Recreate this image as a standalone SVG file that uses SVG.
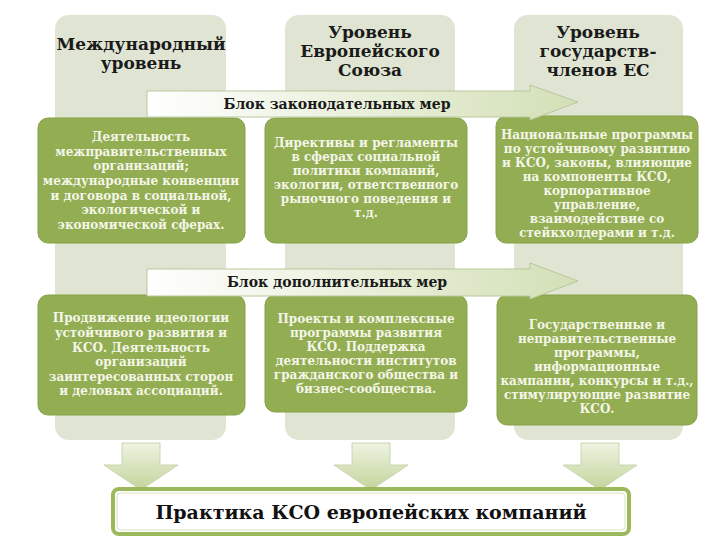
<svg xmlns="http://www.w3.org/2000/svg" width="720" height="540" viewBox="0 0 720 540">
<style>
.col{fill:#dfe5d2;}
.box{fill:#93ad52;stroke:#86a047;stroke-width:1;}
.hdr{font-family:"DejaVu Serif","Liberation Serif",serif;font-weight:bold;font-size:17px;fill:#1a1a1a;text-anchor:middle;}
.bt{font-family:"DejaVu Serif","Liberation Serif",serif;font-weight:bold;font-size:12px;fill:#f3f6e8;text-anchor:middle;}
.at{font-family:"DejaVu Serif","Liberation Serif",serif;font-weight:bold;font-size:14px;fill:#1a1a1a;text-anchor:middle;}
.ft{font-family:"DejaVu Serif","Liberation Serif",serif;font-weight:bold;font-size:19px;fill:#111;text-anchor:middle;}
.harrow{fill:url(#hg);stroke:#b9c79c;stroke-width:1;}
.darrow{fill:url(#vg);stroke:#c9d6ae;stroke-width:1;}
</style>
<defs>
<linearGradient id="hg" x1="0" y1="0" x2="1" y2="0">
<stop offset="0" stop-color="#ffffff"/>
<stop offset="1" stop-color="#d3e0b6"/>
</linearGradient>
<linearGradient id="vg" x1="0" y1="0" x2="0" y2="1">
<stop offset="0" stop-color="#eef3e2"/>
<stop offset="1" stop-color="#c3d49a"/>
</linearGradient>
</defs>
<rect width="720" height="540" fill="#ffffff"/>
<g id="col-intl">
<rect class="col" x="55" y="15" width="171" height="425" rx="14"/>
<text class="hdr" x="141" y="50">Международный</text>
<text class="hdr" x="141" y="69">уровень</text>
</g>
<g id="col-eu">
<rect class="col" x="285" y="15" width="170" height="425" rx="14"/>
<text class="hdr" x="370" y="38">Уровень</text>
<text class="hdr" x="370" y="57">Европейского</text>
<text class="hdr" x="370" y="76">Союза</text>
</g>
<g id="col-states">
<rect class="col" x="514" y="15" width="169" height="425" rx="14"/>
<text class="hdr" x="598" y="38">Уровень</text>
<text class="hdr" x="598" y="57">государств-</text>
<text class="hdr" x="598" y="76">членов ЕС</text>
</g>
<g id="box-1">
<rect class="box" x="38" y="118" width="207" height="125" rx="10"/>
<text class="bt" x="141" y="141">Деятельность</text>
<text class="bt" x="141" y="156">межправительственных</text>
<text class="bt" x="141" y="170">организаций;</text>
<text class="bt" x="141" y="185">международные конвенции</text>
<text class="bt" x="141" y="200">и договора в социальной,</text>
<text class="bt" x="141" y="214">экологической и</text>
<text class="bt" x="141" y="229">экономической сферах.</text>
</g>
<g id="box-2">
<rect class="box" x="265" y="118" width="202" height="125" rx="10"/>
<text class="bt" x="366" y="147">Директивы и регламенты</text>
<text class="bt" x="366" y="161">в сферах социальной</text>
<text class="bt" x="366" y="175">политики компаний,</text>
<text class="bt" x="366" y="189">экологии, ответственного</text>
<text class="bt" x="366" y="203">рыночного поведения и</text>
<text class="bt" x="366" y="217">т.д.</text>
</g>
<g id="box-3">
<rect class="box" x="496" y="116" width="202" height="127" rx="10"/>
<text class="bt" x="597" y="139">Национальные программы</text>
<text class="bt" x="597" y="153">по устойчивому развитию</text>
<text class="bt" x="597" y="167">и КСО, законы, влияющие</text>
<text class="bt" x="597" y="181">на компоненты КСО,</text>
<text class="bt" x="597" y="195">корпоративное</text>
<text class="bt" x="597" y="209">управление,</text>
<text class="bt" x="597" y="223">взаимодействие со</text>
<text class="bt" x="597" y="237">стейкхолдерами и т.д.</text>
</g>
<g id="box-4">
<rect class="box" x="38" y="295" width="207" height="120" rx="10"/>
<text class="bt" x="141" y="322">Продвижение идеологии</text>
<text class="bt" x="141" y="337">устойчивого развития и</text>
<text class="bt" x="141" y="352">КСО. Деятельность</text>
<text class="bt" x="141" y="366">организаций</text>
<text class="bt" x="141" y="381">заинтересованных сторон</text>
<text class="bt" x="141" y="395">и деловых ассоциаций.</text>
</g>
<g id="box-5">
<rect class="box" x="265" y="295" width="202" height="117" rx="10"/>
<text class="bt" x="366" y="323">Проекты и комплексные</text>
<text class="bt" x="366" y="337">программы развития</text>
<text class="bt" x="366" y="351">КСО. Поддержка</text>
<text class="bt" x="366" y="365">деятельности институтов</text>
<text class="bt" x="366" y="379">гражданского общества и</text>
<text class="bt" x="366" y="393">бизнес-сообщества.</text>
</g>
<g id="box-6">
<rect class="box" x="497" y="295" width="200" height="130" rx="10"/>
<text class="bt" x="597" y="329">Государственные и</text>
<text class="bt" x="597" y="343">неправительственные</text>
<text class="bt" x="597" y="357">программы,</text>
<text class="bt" x="597" y="371">информационные</text>
<text class="bt" x="597" y="385">кампании, конкурсы и т.д.,</text>
<text class="bt" x="597" y="399">стимулирующие развитие</text>
<text class="bt" x="597" y="413">КСО.</text>
</g>
<g id="connectors">
<g id="arrow-legal">
<path class="harrow" d="M147,91 L530,91 L530,85 L578,102 L530,120 L530,117 L147,117 Z"/>
<text class="at" x="337" y="109">Блок законодательных мер</text>
</g>
<g id="arrow-extra">
<path class="harrow" d="M147,269 L530,269 L530,263 L578,281 L530,299 L530,296 L147,296 Z"/>
<text class="at" x="337" y="287">Блок дополнительных мер</text>
</g>
<path class="darrow" d="M122,443 L160,443 L160,465 L178,465 L141,490 L104,465 L122,465 Z"/>
<path class="darrow" d="M352,443 L390,443 L390,465 L408,465 L371,490 L334,465 L352,465 Z"/>
<path class="darrow" d="M581,443 L619,443 L619,465 L637,465 L600,490 L563,465 L581,465 Z"/>
</g>
<g id="result">
<rect x="113" y="489" width="516" height="45" rx="6" fill="#ffffff" stroke="#9bb85a" stroke-width="4"/>
<rect x="117" y="493" width="508" height="37" rx="4" fill="none" stroke="#d8e4bf" stroke-width="1"/>
<text class="ft" x="371" y="519">Практика КСО европейских компаний</text>
</g>
</svg>
